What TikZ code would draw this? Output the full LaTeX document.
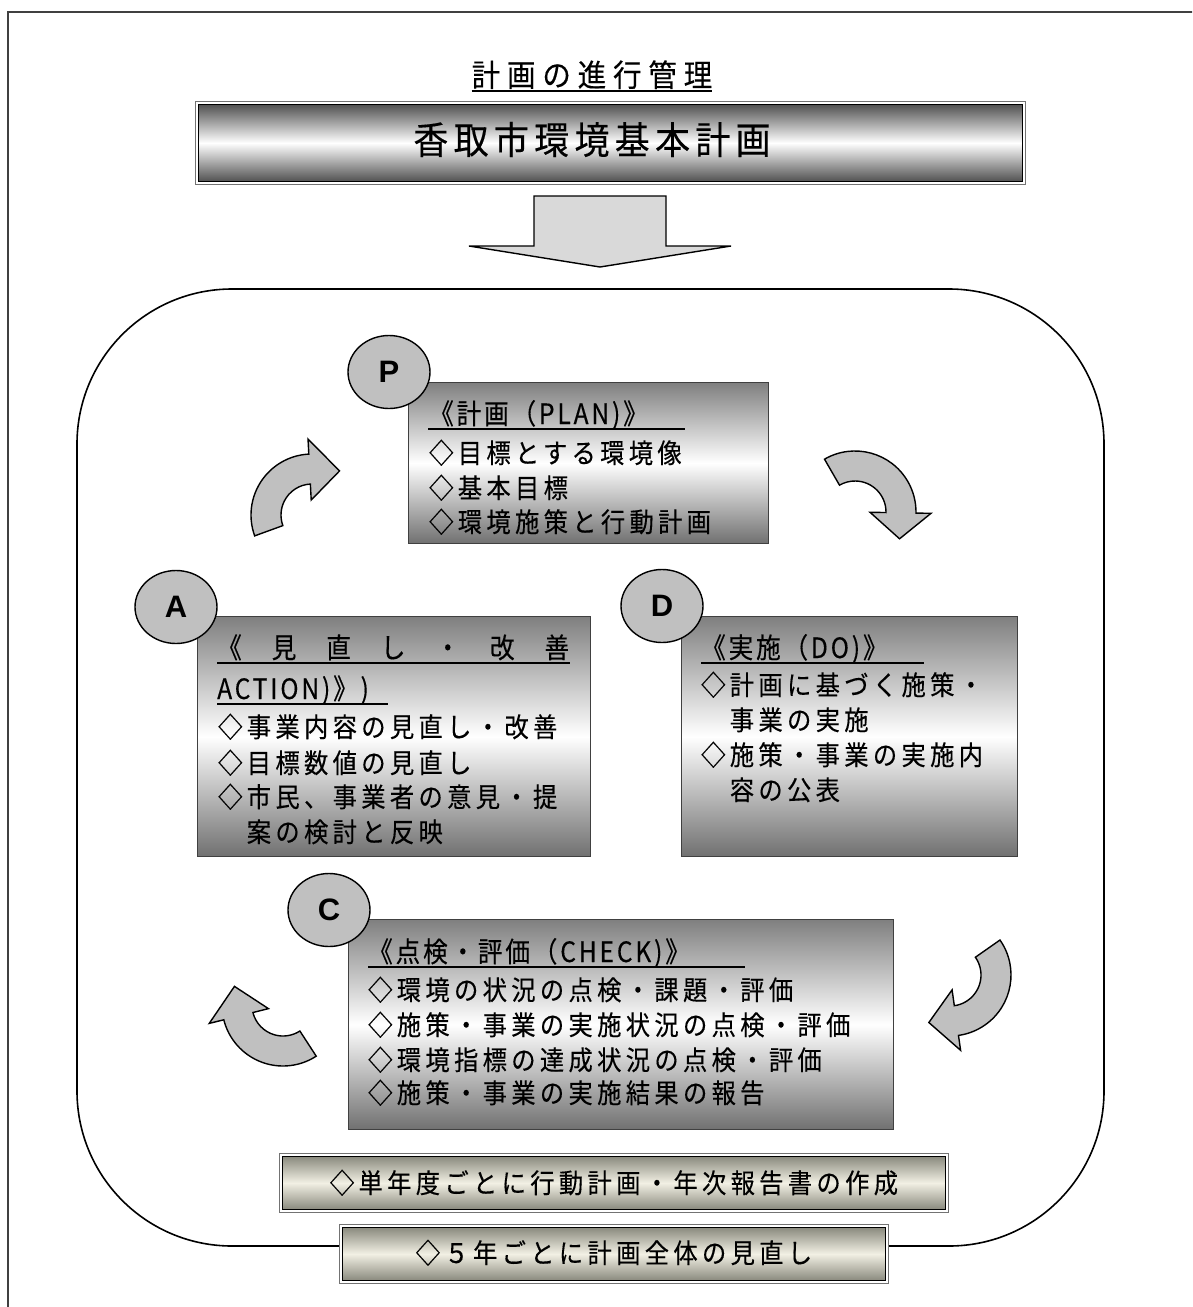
\documentclass[tikz,border=0pt]{standalone}
\usepackage{fontspec}
\usetikzlibrary{shapes.geometric}
\setmainfont{Noto Sans CJK JP}
\newfontfamily\jpbody{Noto Sans CJK JP}[FakeStretch=0.9,LetterSpace=16,FakeBold=0.3]
\newfontfamily\jphead{Noto Sans CJK JP}[FakeStretch=0.88,LetterSpace=10,FakeBold=0.3]
\newfontfamily\jptitle{Noto Sans CJK JP}[FakeStretch=0.92,LetterSpace=22,FakeBold=0.3]
\newfontfamily\jpbig{Noto Sans CJK JP}[FakeStretch=0.92,LetterSpace=14,FakeBold=0.3]
\newfontfamily\lsans{Liberation Sans}
\definecolor{bbdark}{RGB}{138,138,126}
\definecolor{bblight}{RGB}{242,240,228}
\definecolor{agray}{RGB}{192,192,192}
\newcommand{\cuarrow}[5]{%
  \begin{scope}[shift={(#1,#2)}]
  \draw[carrow] (#3:61pt) arc[start angle=#3, end angle=#4, radius=61pt]
     -- (#4:76pt) -- (#5:52pt) -- (#4:15pt) -- (#4:31pt)
     arc[start angle=#4, end angle=#3, radius=31pt] -- cycle;
  \end{scope}}
\begin{document}
\begin{tikzpicture}[x=1pt,y=-1pt,
  carrow/.style={fill=agray, draw=black, line width=1.4pt, line join=miter},
  darrow/.style={fill=black!15, draw=black, line width=1.4pt},
  pdbox/.style={draw=black!75, line width=1.2pt, top color=black!50, bottom color=black!56, middle color=white, inner sep=0pt, anchor=north west},
  circ/.style={ellipse, draw=black, line width=1.4pt, fill=agray, minimum width=82pt, minimum height=73pt, inner sep=0pt, font=\lsans\bfseries\fontsize{31}{31}\selectfont},
  hd/.style={inner sep=0pt, anchor=base west, font=\jphead\fontsize{28}{30}\selectfont},
  bd/.style={inner sep=0pt, anchor=base west, font=\jpbody\fontsize{27}{30}\selectfont},
  ul/.style={line width=1.8pt, black},
  outerb/.style={draw=black!55, line width=0.8pt, fill=white, inner sep=0pt, anchor=north west},
]
\useasboundingbox (0,0) rectangle (1192,1307);
\clip (0,0) rectangle (1192,1307);
\fill[white] (0,0) rectangle (1192,1307);
\draw[line width=1.4pt, black!75] (8,12) rectangle (1240,1350);

% title
\node[inner sep=0pt, anchor=base, font=\jptitle\fontsize{31}{34}\selectfont] (ttl) at (592,86.5) {計画の進行管理};
\draw[ul] ([yshift=-4.5pt]ttl.base west) -- ([yshift=-4.5pt]ttl.base east);

% title box
\node[outerb, minimum width=830pt, minimum height=83pt] (tbo) at (195,101) {};
\node[draw=black, line width=1.5pt, top color=black!68, bottom color=black!68, middle color=white, minimum width=824pt, minimum height=77pt, inner sep=0pt] (tbi) at (tbo.center) {};
\node[inner sep=0pt, anchor=base, font=\jpbig\fontsize{38}{40}\selectfont] (tbt) at (592,154) {香取市環境基本計画};

% down arrow
\draw[darrow] (534,196) -- (666,196) -- (666,246) -- (731,246) -- (600,267) -- (469,246) -- (534,246) -- cycle;

% big rounded frame
\draw[line width=1.6pt, rounded corners=155pt] (77,289) rectangle (1104,1246);

% boxes
\node[pdbox, minimum width=360pt, minimum height=161pt] (plan) at (408,382) {};
\node[pdbox, minimum width=393pt, minimum height=240pt] (act) at (197,616) {};
\node[pdbox, minimum width=336pt, minimum height=240pt] (do) at (681,616) {};
\node[pdbox, minimum width=545pt, minimum height=210pt] (chk) at (348,919) {};

% PLAN text
\node[hd] (plh) at (429,424) {《計画（PLAN)》};
\draw[ul] (428,429) -- (685,429);
\node[bd] (pl1) at (429,463) {◇目標とする環境像};
\node[bd] (pl2) at (429,498) {◇基本目標};
\node[bd] (pl3) at (429,532) {◇環境施策と行動計画};

% ACTION text
\node[hd] (ach1) at (217,658) {\hbox to 352pt{《\hfill 見\hfill 直\hfill し\hfill ・\hfill 改\hfill 善}};
\draw[ul] (217,663) -- (570,663);
\node[hd] (ach2) at (217,699) {ACTION)》)};
\draw[ul] (217,704) -- (388,704);
\node[bd] (ac1) at (218,737) {◇事業内容の見直し・改善};
\node[bd] (ac2) at (218,773) {◇目標数値の見直し};
\node[bd] (ac3) at (218,807) {◇市民、事業者の意見・提};
\node[bd] (ac4) at (218,842) {　案の検討と反映};

% DO text
\node[hd] (doh) at (701,658) {《実施（DO)》};
\draw[ul] (701,663) -- (924,663);
\node[bd] (do1) at (701,695) {◇計画に基づく施策・};
\node[bd] (do2) at (701,730) {　事業の実施};
\node[bd] (do3) at (701,765) {◇施策・事業の実施内};
\node[bd] (do4) at (701,800) {　容の公表};

% CHECK text
\node[hd] (chh) at (368,962) {《点検・評価（CHECK)》};
\draw[ul] (368,967) -- (745,967);
\node[bd] (ch1) at (368,1000) {◇環境の状況の点検・課題・評価};
\node[bd] (ch2) at (368,1035) {◇施策・事業の実施状況の点検・評価};
\node[bd] (ch3) at (368,1070) {◇環境指標の達成状況の点検・評価};
\node[bd] (ch4) at (368,1103) {◇施策・事業の実施結果の報告};

% circles
\node[circ] (P) at (389,372) {P};
\node[circ] (A) at (176,607) {A};
\node[circ] (D) at (662,606) {D};
\node[circ] (C) at (329,910) {C};

% curved arrows
\cuarrow{312}{515}{200}{93}{58}
\cuarrow{855}{512}{120}{-1}{-31}
\cuarrow{950}{975}{35}{-82}{-114}
\cuarrow{283}{1005}{-57}{-166}{-201}

% bottom boxes
\node[outerb, minimum width=669pt, minimum height=59pt] (y1o) at (279,1153) {};
\node[draw=black, line width=1.4pt, top color=bbdark, bottom color=bbdark, middle color=bblight, minimum width=663pt, minimum height=53pt, inner sep=0pt] (y1i) at (y1o.center) {};
\node[bd, anchor=base] (y1t) at (614,1193) {◇単年度ごとに行動計画・年次報告書の作成};

\node[outerb, minimum width=549pt, minimum height=59pt] (y5o) at (339,1224) {};
\node[draw=black, line width=1.4pt, top color=bbdark, bottom color=bbdark, middle color=bblight, minimum width=543pt, minimum height=53pt, inner sep=0pt] (y5i) at (y5o.center) {};
\node[bd, anchor=base] (y5t) at (614,1263) {◇５年ごとに計画全体の見直し};
\end{tikzpicture}
\end{document}
